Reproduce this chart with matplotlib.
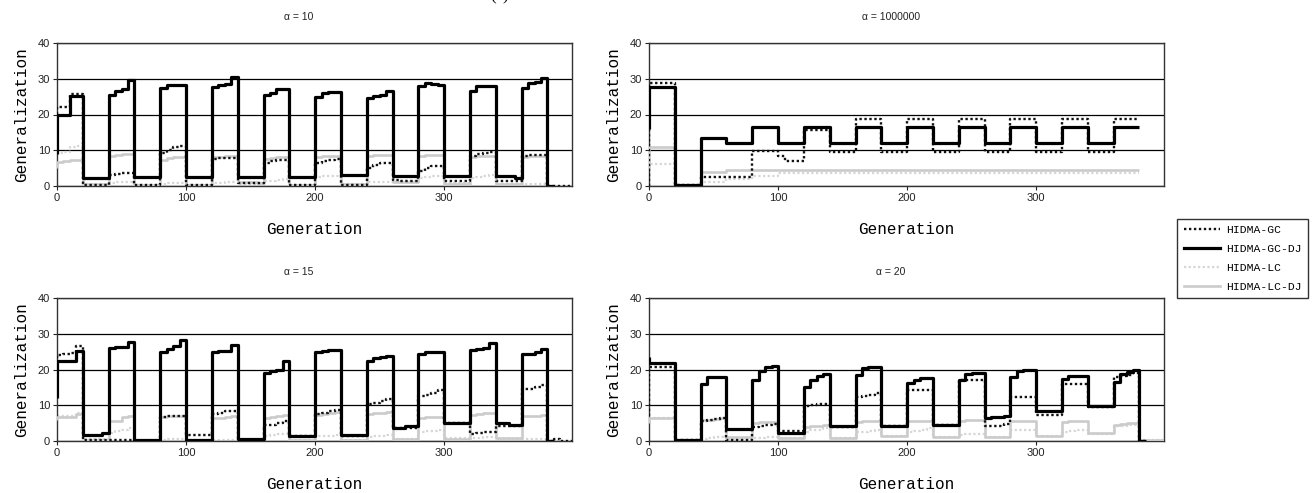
import numpy as np
import matplotlib
matplotlib.use("Agg")
import matplotlib.pyplot as plt
from matplotlib.lines import Line2D

N = float("nan")

# Generation sampling: one value every 5 generations (0..395); blocks of 20 gens
step = 5
n_gen = 400

titles = ["α = 10", "α = 1000000", "α = 15", "α = 20"]
series_names = ["HIDMA-GC", "HIDMA-GC-DJ", "HIDMA-LC", "HIDMA-LC-DJ"]
xticks = [0, 100, 200, 300]
yticks = [0, 10, 20, 30, 40]

# value at generation 0 (first point) per panel, order GC, GC-DJ, LC, LC-DJ
a10_start = [9, 9, 9, 5]
a1m_start = [0, 16, 0, 5]
a15_start = [12, 12, 7, 6]
a20_start = [7, 23.5, 5, 5]

# ---------------- alpha = 10 ----------------
a10_gc = [22, 22, 25.6, 25.6, 0.3, 0.3, 0.3, 0.3,
          3, 3.3, 3.5, 3.7, 0.2, 0.2, 0.2, 0.2,
          9.3, 10, 10.8, 11.3, 0.2, 0.2, 0.2, 0.2,
          7.6, 7.8, 7.8, 7.8, 0.7, 0.7, 0.7, 0.7,
          6.5, 7, 7.2, 7.3, 0.3, 0.3, 0.3, 0.3,
          6.5, 7, 7.3, 7.5, 0.3, 0.3, 0.3, 0.3,
          5, 6, 6.5, 6.5, 1.7, 1.5, 1.5, 1.3,
          4.3, 5, 5.5, 5.5, 1.3, 1.3, 1.3, 1.3,
          8.5, 9, 9.3, 9.6, 1.5, 1.5, 1.5, 1.5,
          8.5, 8.8, 8.8, 8.8, 0, 0, 0, 0]
a10_gcdj = [20, 20, 25.3, 25.3, 2.3, 2.3, 2.3, 2.3,
            25.5, 26.7, 27.2, 29.7, 2.5, 2.5, 2.5, 2.5,
            27.5, 28.3, 28.3, 28.3, 2.5, 2.5, 2.5, 2.5,
            27.8, 28.3, 28.5, 30.4, 2.5, 2.5, 2.5, 2.5,
            25.5, 26, 27.2, 27.2, 2.5, 2.5, 2.5, 2.5,
            25, 26, 26.3, 26.3, 3, 3, 3, 3,
            24.5, 25.3, 25.5, 26.5, 2.8, 2.8, 2.8, 2.8,
            28, 28.8, 28.6, 28.3, 2.8, 2.8, 2.8, 2.8,
            26.5, 28, 28, 28, 2.8, 2.8, 2.8, 2.3,
            27.5, 28.8, 29, 30.3, 0, N, N, N]
a10_lc = [9.3, 9.5, 11, 11.3, 0.5, 0.5, 0.5, 0.5,
          0.8, 1, 1, 1, 0.3, 0.3, 0.3, 0.3,
          0.6, 0.8, 0.8, 0.8, 0.3, 0.3, 0.3, 0.3,
          0.8, 0.8, 1, 1, 0.5, 0.5, 0.5, 0.5,
          1.3, 1.5, 1.8, 2, 0.3, 0.3, 0.3, 0.3,
          2.5, 2.7, 2.8, 2.8, 0.5, 0.5, 0.5, 0.5,
          1, 1, 1.2, 1.2, 1.5, 1.5, 1.5, 1.5,
          2.3, 2.6, 2.8, 2.8, 0.8, 0.8, 0.8, 0.8,
          2.2, 2.6, 2.9, 3, 0.5, 0.5, 0.5, 0.5,
          0.5, 0.5, 0.5, 0.5, 0, N, N, N]
a10_lcdj = [6.8, 7, 7.2, 7.3, 0.5, 0.5, 0.5, 0.5,
            8.5, 8.8, 9, 9, 0.3, 0.3, 0.3, 0.3,
            7.3, 7.7, 8, 8, 0.3, 0.3, 0.3, 0.3,
            8, 8.2, 8.3, 8.3, 1, 1, 1, 0.8,
            7.5, 7.8, 8, 8, 0.3, 0.3, 0.3, 0.3,
            8, 8.3, 8.5, 8.5, 0.5, 0.5, 0.5, 0.5,
            8.3, 8.6, 8.8, 8.8, 1, 1, 1, 1,
            8.5, 8.7, 8.7, 8.7, 0.5, 0.5, 0.5, 0.5,
            8, 8.3, 8.5, 8.5, 0.5, 0.5, 0.5, 0.5,
            8, 8.3, 8.3, 8.3, 0, N, N, N]

# ---------------- alpha = 1000000 ----------------
a1m_gc = [28.8, 28.8, 28.8, 28.8, 0.3, 0.3, 0.3, 0.3,
          2.5, 2.5, 2.5, 2.5, 2.5, 2.5, 2.5, 2.5,
          9.7, 9.7, 9.7, 9.7, 8.5, 7, 7, 7,
          15.6, 15.6, 15.6, 15.6, 9.5, 9.5, 9.5, 9.5,
          18.8, 18.8, 18.8, 18.8, 9.5, 9.5, 9.5, 9.5,
          18.8, 18.8, 18.8, 18.8, 9.5, 9.5, 9.5, 9.5,
          18.8, 18.8, 18.8, 18.8, 9.5, 9.5, 9.5, 9.5,
          18.8, 18.8, 18.8, 18.8, 9.5, 9.5, 9.5, 9.5,
          18.8, 18.8, 18.8, 18.8, 9.5, 9.5, 9.5, 9.5,
          18.8, 18.8, 18.8, 18.8, N, N, N, N]
a1m_gcdj = [27.8, 27.8, 27.8, 27.8, 0.3, 0.3, 0.3, 0.3,
            13.5, 13.5, 13.5, 13.5, 12, 12, 12, 12,
            16.5, 16.5, 16.5, 16.5, 12, 12, 12, 12,
            16.5, 16.5, 16.5, 16.5, 12, 12, 12, 12,
            16.5, 16.5, 16.5, 16.5, 12, 12, 12, 12,
            16.5, 16.5, 16.5, 16.5, 12, 12, 12, 12,
            16.5, 16.5, 16.5, 16.5, 12, 12, 12, 12,
            16.5, 16.5, 16.5, 16.5, 12, 12, 12, 12,
            16.5, 16.5, 16.5, 16.5, 12, 12, 12, 12,
            16.5, 16.5, 16.5, 16.5, N, N, N, N]
a1m_lc = [6.2, 6.2, 6.2, 6.2, 0, 0, 0, 0,
          1, 1, 1, 1, 1.9, 1.9, 1.9, 1.9,
          2.8, 2.8, 2.8, 2.8, 3.5, 3.5, 3.5, 3.5,
          3.5, 3.5, 3.5, 3.5, 3.5, 3.5, 3.5, 3.5,
          3.5, 3.5, 3.5, 3.5, 3.5, 3.5, 3.5, 3.5,
          3.5, 3.5, 3.5, 3.5, 3.5, 3.5, 3.5, 3.5,
          3.5, 3.5, 3.5, 3.5, 3.5, 3.5, 3.5, 3.5,
          3.5, 3.5, 3.5, 3.5, 3.5, 3.5, 3.5, 3.5,
          3.5, 3.5, 3.5, 3.5, 3.5, 3.5, 3.5, 3.5,
          3.5, 3.5, 3.5, 3.5, N, N, N, N]
a1m_lcdj = [11, 11, 11, 11, 0.2, 0.2, 0.2, 0.2,
            4, 4, 4, 4, 4.6, 4.6, 4.6, 4.6,
            4.6, 4.6, 4.6, 4.6, 4.6, 4.6, 4.6, 4.6,
            4.6, 4.6, 4.6, 4.6, 4.6, 4.6, 4.6, 4.6,
            4.6, 4.6, 4.6, 4.6, 4.6, 4.6, 4.6, 4.6,
            4.6, 4.6, 4.6, 4.6, 4.6, 4.6, 4.6, 4.6,
            4.6, 4.6, 4.6, 4.6, 4.6, 4.6, 4.6, 4.6,
            4.6, 4.6, 4.6, 4.6, 4.6, 4.6, 4.6, 4.6,
            4.6, 4.6, 4.6, 4.6, 4.6, 4.6, 4.6, 4.6,
            4.6, 4.6, 4.6, 4.6, N, N, N, N]

# ---------------- alpha = 15 ----------------
a15_gc = [24, 24.3, 24.5, 26.5, 0.3, 0.3, 0.3, 0.3,
          0.3, 0.3, 0.3, 0.3, 0, 0, 0, 0,
          6.8, 7, 7, 7, 1.8, 1.8, 1.8, 1.8,
          7.5, 7.9, 8.3, 8.5, 0.3, 0.3, 0.3, 0.3,
          4.5, 4.6, 5, 5.6, 1.5, 1.5, 1.5, 1.5,
          7.6, 7.8, 8.3, 8.8, 1.3, 1.3, 1.3, 1.3,
          10.3, 10.7, 11.2, 11.7, 3.7, 3.7, 3.7, 3.7,
          12.5, 13, 13.5, 14.3, 5, 5, 5, 5,
          2, 2.2, 2.4, 2.4, 4.3, 4.3, 4.3, 4.3,
          14.5, 14.6, 15, 15.8, 0, 0.6, 0, 0]
a15_gcdj = [22.5, 22.5, 22.5, 25.3, 1.8, 1.8, 1.8, 2.2,
            26, 26.2, 26.2, 27.8, 0.2, 0.2, 0.2, 0.2,
            25, 25.8, 26.5, 28.2, 0.2, 0.2, 0.2, 0.2,
            25, 25.2, 25.3, 26.8, 0.6, 0.6, 0.6, 0.6,
            19, 19.6, 20, 22.3, 1.5, 1.5, 1.5, 1.5,
            24.8, 25.2, 25.4, 25.5, 1.6, 1.6, 1.6, 1.6,
            22.5, 23.3, 23.6, 23.8, 3.7, 3.7, 4.2, 4.2,
            24.3, 24.9, 25, 25, 5, 5, 5, 5,
            25.5, 25.8, 26, 27.3, 5, 5, 4.6, 4.6,
            24.2, 24.2, 24.8, 25.6, 0, N, N, N]
a15_lc = [7, 7, 7, 7.8, 0.5, 0.5, 0.5, 0.5,
          2.3, 2.7, 3.2, 3.6, 0.3, 0.3, 0.3, 0.3,
          0.4, 0.5, 0.6, 0.6, 0.3, 0.3, 0.3, 0.3,
          0.3, 0.3, 0.3, 0.3, 0.3, 0.3, 0.3, 0.3,
          1.5, 1.7, 1.9, 2, 0.3, 0.3, 0.3, 0.3,
          1.3, 1.4, 1.5, 1.6, 0.3, 0.3, 0.3, 0.3,
          1, 1.3, 1.5, 1.8, 0.5, 0.5, 0.5, 0.5,
          2.5, 2.7, 2.9, 3, 0.8, 0.8, 0.8, 0.8,
          0.8, 0.9, 1, 1, 0.5, 0.5, 0.5, 0.5,
          0.5, 0.5, 0.5, 0.5, 0, N, N, N]
a15_lcdj = [6.7, 6.7, 6.7, 7.6, 0.3, 0.3, 0.3, 0.3,
            5.7, 5.7, 6.8, 7, 0.3, 0.3, 0.3, 0.3,
            6.8, 7, 7, 7, 0.3, 0.3, 0.3, 0.3,
            6.3, 6.5, 6.8, 7, 0.3, 0.3, 0.3, 0.3,
            6.5, 6.6, 6.9, 7.2, 0.3, 0.3, 0.3, 0.3,
            7.3, 7.6, 7.8, 8, 0.3, 0.3, 0.3, 0.3,
            7.5, 7.7, 7.8, 8, 0.5, 0.5, 0.5, 0.5,
            6.5, 6.7, 6.7, 6.7, 0.5, 0.5, 0.5, 0.5,
            7.2, 7.5, 7.7, 7.8, 0.8, 0.8, 0.8, 0.8,
            6.9, 7, 7.1, 7.3, 0, N, N, N]

# ---------------- alpha = 20 ----------------
a20_gc = [20.7, 20.7, 20.7, 20.7, 0.3, 0.3, 0.3, 0.3,
          5.7, 5.9, 6.1, 6.3, 0.3, 0.3, 0.3, 0.3,
          4, 4.2, 4.4, 4.7, 2.7, 2.7, 2.7, 2.7,
          9.8, 10.2, 10.3, 10.3, 4, 4, 4, 4,
          12.3, 12.7, 13, 13.3, 4.1, 4.1, 4.1, 4.1,
          14.4, 14.4, 14.4, 14.4, 4.5, 4.5, 4.5, 4.5,
          17, 17, 17, 17, 4.1, 4.1, 4.2, 4.8,
          12.2, 12.2, 12.2, 12.2, 7.3, 7.3, 7.3, 7.3,
          16, 16, 16, 16, 9.5, 9.5, 9.5, 9.5,
          18, 18.3, 18.5, 19, 0, N, N, N]
a20_gcdj = [21.7, 21.7, 21.7, 21.7, 0.3, 0.3, 0.3, 0.3,
            16, 18, 18, 18, 3.4, 3.4, 3.4, 3.4,
            17, 19.5, 20.7, 21, 2.2, 2.2, 2.2, 2.2,
            15, 17.2, 18.3, 18.8, 4.1, 4.1, 4.1, 4.1,
            18.5, 20.4, 20.6, 20.6, 4.3, 4.3, 4.3, 4.3,
            16.2, 17.2, 17.5, 17.5, 4.4, 4.4, 4.4, 4.4,
            17, 18.8, 19, 19, 6.3, 6.6, 6.8, 6.9,
            18, 19.5, 19.9, 20, 8.3, 8.3, 8.3, 8.3,
            17.3, 18.3, 18.1, 18.1, 9.7, 9.7, 9.7, 9.7,
            16.5, 18.8, 19.2, 20, 0, N, N, N]
a20_lc = [6.3, 6.3, 6.3, 6.3, 0.3, 0.3, 0.3, 0.3,
          0.5, 0.8, 1, 1, 0.3, 0.3, 0.3, 0.3,
          0.8, 0.9, 1, 1, 0.8, 0.8, 0.8, 0.8,
          2.5, 3, 3.2, 3.5, 0.8, 0.8, 0.8, 0.8,
          2.4, 2.6, 2.8, 3, 1.3, 1.3, 1.3, 1.3,
          2.5, 2.8, 3.2, 3.5, 1, 1, 1, 1,
          1.8, 2, 2, 2, 1, 1, 1, 1,
          3, 3, 3, 3, 1.5, 1.5, 1.5, 1.5,
          2.5, 2.8, 3, 3.2, 2, 2, 2, 2,
          4.2, 4.3, 4.4, 4.5, 0.3, 0.3, 0.3, 0.3]
a20_lcdj = [6.5, 6.5, 6.5, 6.5, 0.3, 0.3, 0.3, 0.3,
            5.8, 6, 6.2, 6.3, 1.1, 1.1, 1.1, 1.1,
            5, 5.3, 5.3, 5.3, 0.8, 0.8, 0.8, 0.8,
            4, 4.2, 4.3, 4.4, 0.8, 0.8, 0.8, 0.8,
            5.2, 5.5, 5.7, 5.7, 1.3, 1.3, 1.3, 1.3,
            5.5, 5.5, 5.5, 5.5, 1, 1, 1, 1,
            5.5, 5.8, 6, 6, 1, 1, 1, 1,
            5.5, 5.5, 5.5, 5.5, 1.5, 1.5, 1.5, 1.5,
            5.3, 5.5, 5.7, 5.7, 2.2, 2.2, 2.2, 2.2,
            4.6, 4.8, 5, 5, 0.4, 0.4, 0.4, 0.4]

panels = [
    (a10_gc, a10_gcdj, a10_lc, a10_lcdj),
    (a1m_gc, a1m_gcdj, a1m_lc, a1m_lcdj),
    (a15_gc, a15_gcdj, a15_lc, a15_lcdj),
    (a20_gc, a20_gcdj, a20_lc, a20_lcdj),
]
starts = [a10_start, a1m_start, a15_start, a20_start]

# ---------------- styles ----------------
styles = {
    "HIDMA-GC": dict(color="#111111", lw=1.7, linestyle=(0, (1, 1.1)), zorder=4),
    "HIDMA-GC-DJ": dict(color="black", lw=2.3, linestyle="-", zorder=5),
    "HIDMA-LC": dict(color="#d6d6d6", lw=1.6, linestyle=(0, (1, 1.1)), zorder=2),
    "HIDMA-LC-DJ": dict(color="#cbcbcb", lw=1.9, linestyle="-", zorder=3),
}

W, H = 1316, 493
fig = plt.figure(figsize=(W / 100, H / 100), dpi=100)

def px_axes(left, right, top, bottom):
    return [left / W, 1 - bottom / H, (right - left) / W, (bottom - top) / H]

rects = [px_axes(57, 572, 43, 186), px_axes(649, 1164, 43, 186),
         px_axes(57, 572, 298, 441), px_axes(649, 1164, 298, 441)]

mono = "Liberation Mono"
sans = "Liberation Sans"

x = np.arange(0, n_gen, step)
for i, (rect, data, st, title) in enumerate(zip(rects, panels, starts, titles)):
    ax = fig.add_axes(rect)
    order = [2, 3, 0, 1]
    for k in order:
        y = np.array(data[k], dtype=float)
        xs = np.concatenate([[0], x, [n_gen]])
        ys = np.concatenate([[st[k]], y, [y[-1]]])
        ax.plot(xs, ys, drawstyle="steps-post", solid_capstyle="butt",
                dash_capstyle="butt", **styles[series_names[k]])
    ax.set_xlim(0, 399)
    ax.set_ylim(0, 40)
    ax.set_xticks(xticks)
    ax.set_yticks(yticks)
    ax.yaxis.grid(True, color="black", lw=0.9)
    ax.set_axisbelow(True)
    for sp in ax.spines.values():
        sp.set_color("#333333")
        sp.set_linewidth(1.0)
    ax.tick_params(axis="both", direction="out", length=3, width=0.8,
                   labelsize=8, pad=2, colors="#222222")
    for lab in ax.get_xticklabels() + ax.get_yticklabels():
        lab.set_fontfamily(sans)
    ax.set_xlabel("Generation", fontfamily=mono, fontsize=11.5, labelpad=14)
    ax.set_ylabel("Generalization", fontfamily=mono, fontsize=11.5, labelpad=6)
    ax.text(0.47, 1.15, title, transform=ax.transAxes, ha="center", va="bottom",
            fontsize=7.5, fontfamily=sans, color="#222222")

handles = [Line2D([], [], **{k: v for k, v in styles[n].items() if k != "zorder"})
           for n in series_names]
leg = fig.legend(handles, series_names, loc="center",
                 bbox_to_anchor=(1175 / W, 1 - 300 / H, 135 / W, 83 / H),
                 prop={"family": mono, "size": 8.2}, frameon=True, fancybox=False,
                 handlelength=3.2, handletextpad=0.5, labelspacing=0.78,
                 borderpad=0.55, borderaxespad=0)
leg.get_frame().set_edgecolor("black")
leg.get_frame().set_linewidth(1.0)

fig.text(500 / W, 1 + 4 / H, "(a)", ha="center", va="center", fontsize=12,
         fontfamily="Liberation Serif")

fig.savefig("out.png", dpi=100)
